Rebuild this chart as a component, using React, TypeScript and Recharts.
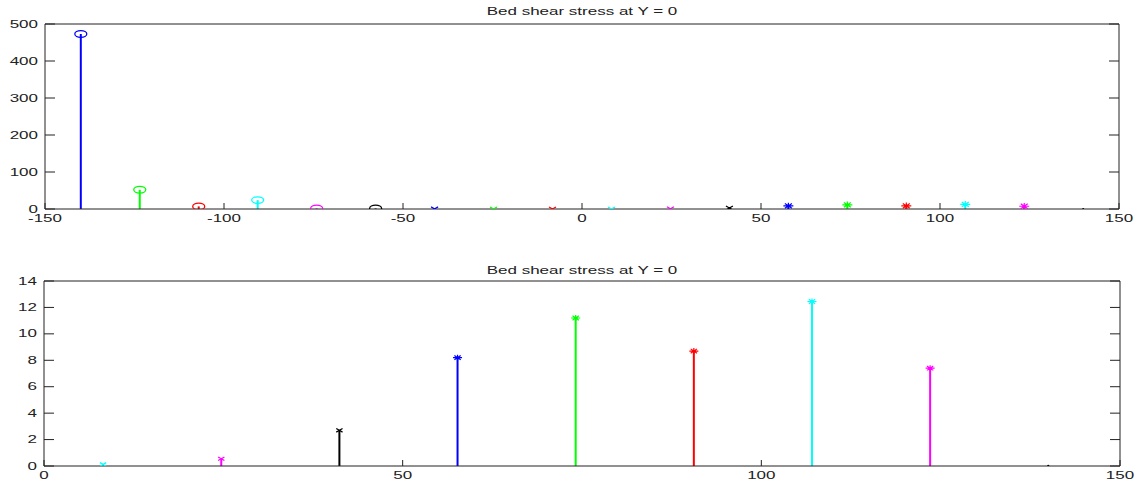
import { ScatterChart, Scatter, XAxis, YAxis, ReferenceLine } from "recharts";

// stem positions along the bed (x) and the shear stress
const xPos = [
  -140, -123.53, -107.06, -90.59, -74.12, -57.65, -41.18, -24.71, -8.24,
  8.24, 24.71, 41.18, 57.65, 74.12, 90.59, 107.06, 123.53, 140,
];
const stress = [
  473, 52, 7, 24, 1.5, 1.5, 0.3, 0.2, 0.2,
  0.12, 0.55, 2.7, 8.2, 11.2, 8.7, 12.45, 7.4, 0.02,
];
const markers = [
  "o", "o", "o", "o", "o", "o",
  "x", "x", "x", "x", "x", "x",
  "*", "*", "*", "*", "*", ".",
];
const colors = [
  "#0000ff", "#00ff00", "#ff0000", "#00ffff", "#ff00ff", "#000000",
  "#0000ff", "#00ff00", "#ff0000", "#00ffff", "#ff00ff", "#000000",
  "#0000ff", "#00ff00", "#ff0000", "#00ffff", "#ff00ff", "#000000",
];

const topXTicks = [-150, -100, -50, 0, 50, 100, 150];
const topYTicks = [0, 100, 200, 300, 400, 500];
const botXTicks = [0, 50, 100, 150];
const botYTicks = [0, 2, 4, 6, 8, 10, 12, 14];

const title = "Bed shear stress at Y = 0";

const pts = xPos.map((x, i) => ({ x, y: stress[i], i }));
const botPts = pts.filter((p) => p.x > 0);

const AX = "#222";
const FONT = "'Liberation Sans', Arial, sans-serif";
const SX = 1.7;

const Label = ({ x, y, anchor, children }: any) => (
  <text
    transform={`translate(${x},${y}) scale(${SX},1)`}
    textAnchor={anchor}
    fontSize={10}
    fontFamily={FONT}
    fill="#222"
  >
    {children}
  </text>
);

const BottomTick = (props: any) => {
  const { x, y, payload } = props;
  return (
    <g>
      <line x1={x} y1={y} x2={x} y2={y - 6} stroke={AX} />
      <Label x={x} y={y + 13} anchor="middle">
        {payload.value}
      </Label>
    </g>
  );
};

const TopTick = (props: any) => {
  const { x, y } = props;
  return <line x1={x} y1={y} x2={x} y2={y + 6} stroke={AX} />;
};

const LeftTick = (props: any) => {
  const { x, y, payload } = props;
  return (
    <g>
      <line x1={x} y1={y} x2={x + 10} y2={y} stroke={AX} />
      <Label x={x - 7} y={y + 3.5} anchor="end">
        {payload.value}
      </Label>
    </g>
  );
};

const RightTick = (props: any) => {
  const { x, y } = props;
  return <line x1={x} y1={y} x2={x - 10} y2={y} stroke={AX} />;
};

const Marker = (props: any) => {
  const { cx, cy, payload, s } = props;
  const c = colors[payload.i];
  const m = markers[payload.i];
  if (m === "o")
    return <ellipse cx={cx} cy={cy} rx={6 * s} ry={3.3 * s} fill="none" stroke={c} strokeWidth={1.3} />;
  if (m === "x")
    return (
      <path
        d={`M${cx - 3.5 * s},${cy - 2 * s}L${cx + 3.5 * s},${cy + 2 * s}M${cx - 3.5 * s},${cy + 2 * s}L${cx + 3.5 * s},${cy - 2 * s}`}
        stroke={c}
        strokeWidth={1.2}
      />
    );
  if (m === "*")
    return (
      <path
        d={`M${cx - 5 * s},${cy}L${cx + 5 * s},${cy}M${cx},${cy - 3.3 * s}L${cx},${cy + 3.3 * s}M${cx - 3.5 * s},${cy - 2.4 * s}L${cx + 3.5 * s},${cy + 2.4 * s}M${cx - 3.5 * s},${cy + 2.4 * s}L${cx + 3.5 * s},${cy - 2.4 * s}`}
        stroke={c}
        strokeWidth={1.2}
      />
    );
  return <circle cx={cx} cy={cy} r={1} fill={c} />;
};

const StemPlot = ({ data, xDomain, yDomain, xTicks, yTicks, height, margin, s }: any) => (
  <ScatterChart width={1140} height={height} margin={margin}>
    <XAxis
      dataKey="x"
      type="number"
      domain={xDomain}
      ticks={xTicks}
      allowDataOverflow
      interval={0}
      height={20}
      tickSize={0}
      tickMargin={0}
      tick={<BottomTick />}
      axisLine={{ stroke: AX }}
    />
    <XAxis
      xAxisId="t"
      orientation="top"
      type="number"
      domain={xDomain}
      ticks={xTicks}
      allowDataOverflow
      interval={0}
      height={1}
      tickSize={0}
      tickMargin={0}
      tick={<TopTick />}
      axisLine={{ stroke: AX }}
    />
    <YAxis
      dataKey="y"
      type="number"
      domain={yDomain}
      ticks={yTicks}
      allowDataOverflow
      interval={0}
      width={45}
      tickSize={0}
      tickMargin={0}
      tick={<LeftTick />}
      axisLine={{ stroke: AX }}
    />
    <YAxis
      yAxisId="r"
      orientation="right"
      type="number"
      domain={yDomain}
      ticks={yTicks}
      allowDataOverflow
      interval={0}
      width={1}
      tickSize={0}
      tickMargin={0}
      tick={<RightTick />}
      axisLine={{ stroke: AX }}
    />
    {data.map((p: any) => (
      <ReferenceLine
        key={p.i}
        segment={[
          { x: p.x, y: 0 },
          { x: p.x, y: p.y },
        ]}
        stroke={colors[p.i]}
        strokeWidth={2}
        ifOverflow="visible"
      />
    ))}
    <Scatter
      data={data}
      isAnimationActive={false}
      shape={(props: any) => <Marker {...props} s={s} />}
    />
  </ScatterChart>
);

const App = () => {
  return (
    <div style={{ position: "absolute", left: 0, top: 0, width: 1140, height: 481, background: "#fff" }}>
      <div style={{ position: "absolute", left: 0, top: 0 }}>
        <StemPlot
          data={pts}
          xDomain={[-150, 150]}
          yDomain={[0, 500]}
          xTicks={topXTicks}
          yTicks={topYTicks}
          height={240}
          margin={{ top: 23, right: 20, bottom: 11, left: 0 }}
          s={1}
        />
      </div>
      <div style={{ position: "absolute", left: 0, top: 240 }}>
        <StemPlot
          data={botPts}
          xDomain={[0, 150]}
          yDomain={[0, 14]}
          xTicks={botXTicks}
          yTicks={botYTicks}
          height={241}
          margin={{ top: 40, right: 19, bottom: -5, left: -1 }}
          s={0.9}
        />
      </div>
      <svg width={1140} height={481} style={{ position: "absolute", left: 0, top: 0, pointerEvents: "none" }}>
        <Label x={582} y={15} anchor="middle">
          {title}
        </Label>
        <Label x={582} y={273.5} anchor="middle">
          {title}
        </Label>
      </svg>
    </div>
  );
};

export default App;
